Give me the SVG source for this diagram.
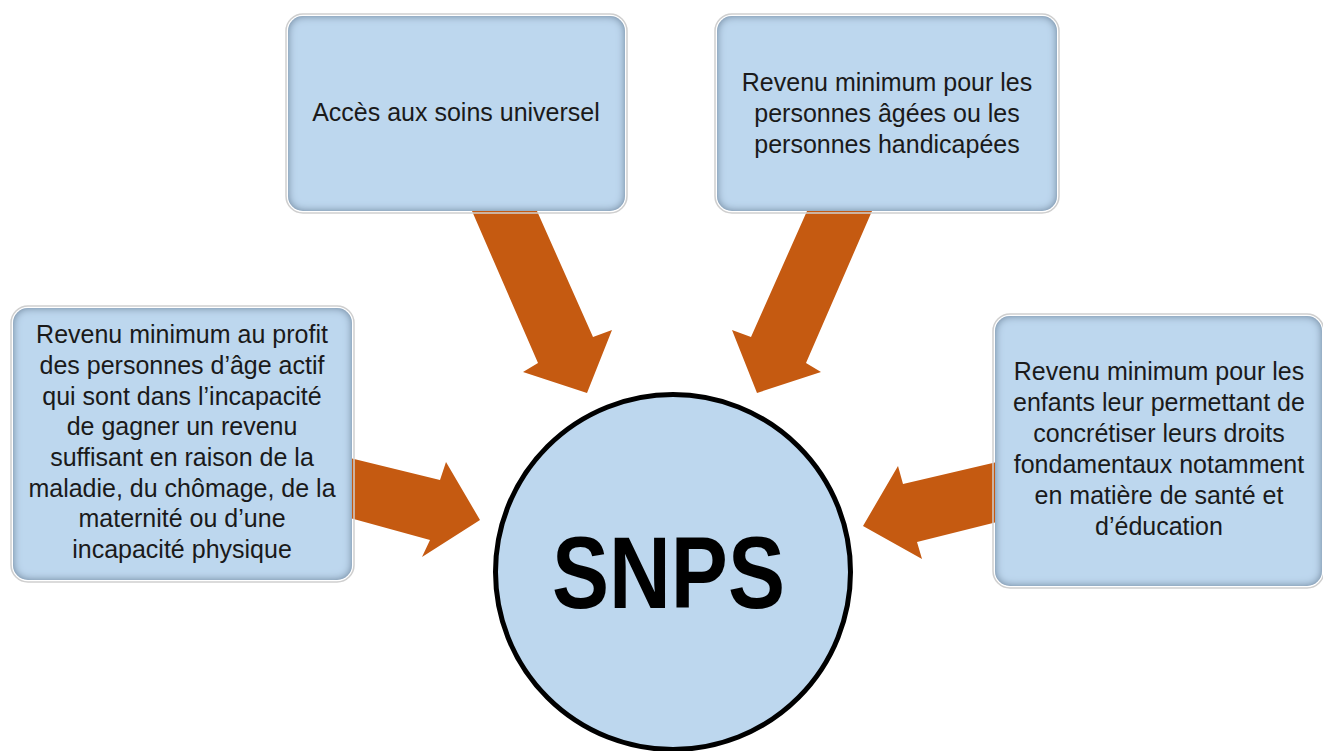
<svg xmlns="http://www.w3.org/2000/svg" width="1323" height="751" viewBox="0 0 1323 751">
  <style>
    .box { fill: #BDD7EE; filter: url(#inset); }
    .frame { fill: none; stroke: #cfcfcf; stroke-width: 1.5; }
    .txt { font-family: "Liberation Sans", Arial, sans-serif; font-size: 25px; fill: #1a1a1a; text-anchor: middle; }
    .arrow { fill: #C55A11; }
  </style>
  <defs>
    <filter id="inset" x="-5%" y="-5%" width="110%" height="110%">
      <feFlood flood-color="#4f6983" result="f"/>
      <feComposite in="f" in2="SourceAlpha" operator="out" result="outside"/>
      <feGaussianBlur in="outside" stdDeviation="4" result="blur"/>
      <feComposite in="blur" in2="SourceAlpha" operator="in" result="shadow"/>
      <feMerge>
        <feMergeNode in="SourceGraphic"/>
        <feMergeNode in="shadow"/>
      </feMerge>
    </filter>
  </defs>
  <rect width="1323" height="751" fill="#ffffff"/>

  <g id="connectors">
    <polygon class="arrow" points="472,211 537,211 593,337 612,330 587,393 523,372 538,363"/>
    <polygon class="arrow" points="807,211 872,211 806,363 821,372 757,393 732,330 751,337"/>
    <polygon class="arrow" points="350,458 440,480 446,462 480,520 422,557 430,540 350,518"/>
    <polygon class="arrow" points="997,462 903,484 898,466 863,526 922,559 917,542 997,522"/>
  </g>

  <g id="node-soins">
    <rect class="frame" x="286" y="14" width="341" height="199" rx="17"/>
    <rect class="box" x="288" y="16" width="337" height="195" rx="15"/>
    <text class="txt" x="456" y="121">Accès aux soins universel</text>
  </g>

  <g id="node-agees">
    <rect class="frame" x="715" y="14" width="344" height="199" rx="17"/>
    <rect class="box" x="717" y="16" width="340" height="195" rx="15"/>
    <text class="txt" x="887" y="91">Revenu minimum pour les</text>
    <text class="txt" x="887" y="122">personnes âgées ou les</text>
    <text class="txt" x="887" y="153">personnes handicapées</text>
  </g>

  <g id="node-actif">
    <rect class="frame" x="11" y="306" width="343" height="276" rx="17"/>
    <rect class="box" x="13" y="308" width="339" height="272" rx="15"/>
    <text class="txt" x="182" y="343">Revenu minimum au profit</text>
    <text class="txt" x="182" y="374">des personnes d’âge actif</text>
    <text class="txt" x="182" y="405">qui sont dans l’incapacité</text>
    <text class="txt" x="182" y="435">de gagner un revenu</text>
    <text class="txt" x="182" y="466">suffisant en raison de la</text>
    <text class="txt" x="182" y="497">maladie, du chômage, de la</text>
    <text class="txt" x="182" y="527">maternité ou d’une</text>
    <text class="txt" x="182" y="558">incapacité physique</text>
  </g>

  <g id="node-enfants">
    <rect class="frame" x="993" y="314" width="331" height="274" rx="17"/>
    <rect class="box" x="995" y="316" width="327" height="270" rx="15"/>
    <text class="txt" x="1159" y="380">Revenu minimum pour les</text>
    <text class="txt" x="1159" y="411">enfants leur permettant de</text>
    <text class="txt" x="1159" y="442">concrétiser leurs droits</text>
    <text class="txt" x="1159" y="473">fondamentaux notamment</text>
    <text class="txt" x="1159" y="504">en matière de santé et</text>
    <text class="txt" x="1159" y="535">d’éducation</text>
  </g>

  <g id="node-snps">
    <circle cx="673" cy="572" r="177.5" fill="#BDD7EE" stroke="#000000" stroke-width="5"/>
    <text x="668.5" y="608" font-family="Liberation Sans, Arial, sans-serif" font-weight="bold" font-size="102" fill="#000000" text-anchor="middle" textLength="233" lengthAdjust="spacingAndGlyphs">SNPS</text>
  </g>
</svg>
